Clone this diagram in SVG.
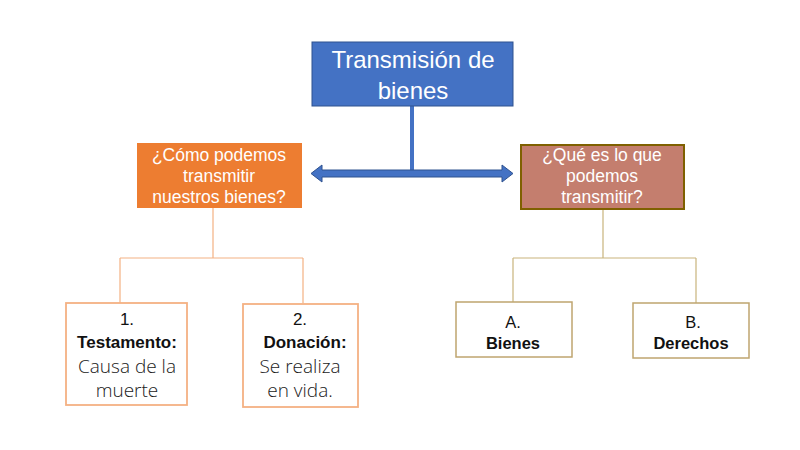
<svg xmlns="http://www.w3.org/2000/svg" width="800" height="450" viewBox="0 0 800 450">
<style>
.t{font-family:"Liberation Sans",Arial,sans-serif;text-anchor:middle;}
.w{fill:#ffffff;}
.k{fill:#111111;}
.b{font-weight:bold;}
.r{font-family:"Open Sans","Liberation Sans",sans-serif;font-weight:300;text-anchor:middle;fill:#1a1a1a;}
.lo{stroke:#F4B183;stroke-width:1.2;fill:none;}
.lb{stroke:#C9B47C;stroke-width:1.2;fill:none;}
</style>
<rect width="800" height="450" fill="#ffffff"/>
<g id="connectors">
  <line x1="412" y1="106" x2="412" y2="170" stroke="#4472C4" stroke-width="4"/>
  <path d="M311,173.5 L322,165 L322,170 L502,170 L502,165 L513,173.5 L502,182 L502,177 L322,177 L322,182 Z" fill="#4472C4" stroke="#2F528F" stroke-width="1"/>
  <path class="lo" d="M213,208 V258 M120,258 H303 M120,258 V303 M303,258 V303"/>
  <path class="lb" d="M603,209 V258 M513,258 H696 M513,258 V302 M696,258 V303"/>
</g>
<g id="root">
  <rect x="312" y="42" width="201" height="64" fill="#4472C4" stroke="#2F528F" stroke-width="1"/>
  <text class="t w" x="413" y="68" font-size="24">Transmisión de</text>
  <text class="t w" x="413" y="99" font-size="24">bienes</text>
</g>
<g id="como">
  <rect x="137" y="143" width="165" height="65" fill="#ED7D31"/>
  <text class="t w" x="219" y="161" font-size="17.5">¿Cómo podemos</text>
  <text class="t w" x="219" y="182" font-size="17.5">transmitir</text>
  <text class="t w" x="219" y="203" font-size="17.5">nuestros bienes?</text>
</g>
<g id="que">
  <rect x="521" y="145" width="163" height="64" fill="#C47E6E" stroke="#7F6000" stroke-width="2"/>
  <text class="t w" x="602" y="161" font-size="17.5">¿Qué es lo que</text>
  <text class="t w" x="602" y="182" font-size="17.5">podemos</text>
  <text class="t w" x="602" y="203" font-size="17.5">transmitir?</text>
</g>
<g id="testamento">
  <rect x="66" y="303" width="121" height="102" fill="#ffffff" stroke="#F4B183" stroke-width="1.8"/>
  <text class="t k" x="127" y="325" font-size="17">1.</text>
  <text class="t k b" x="127" y="348" font-size="17">Testamento:</text>
  <text class="r" x="127" y="373" font-size="19">Causa de la</text>
  <text class="r" x="127" y="397" font-size="19">muerte</text>
</g>
<g id="donacion">
  <rect x="243" y="304" width="115" height="103" fill="#ffffff" stroke="#F4B183" stroke-width="1.8"/>
  <text class="t k" x="300" y="325" font-size="17">2.</text>
  <text class="t k b" x="305" y="348" font-size="17">Donación:</text>
  <text class="r" x="300" y="373" font-size="19">Se realiza</text>
  <text class="r" x="300" y="397" font-size="19">en vida.</text>
</g>
<g id="bienes">
  <rect x="456" y="302" width="116" height="55" fill="#ffffff" stroke="#BFA56F" stroke-width="1.5"/>
  <text class="t k" x="513" y="328" font-size="16.5">A.</text>
  <text class="t k b" x="513" y="349" font-size="16.5">Bienes</text>
</g>
<g id="derechos">
  <rect x="633" y="303" width="116" height="55" fill="#ffffff" stroke="#BFA56F" stroke-width="1.5"/>
  <text class="t k" x="693" y="328" font-size="16.5">B.</text>
  <text class="t k b" x="691" y="349" font-size="16.5">Derechos</text>
</g>
</svg>
